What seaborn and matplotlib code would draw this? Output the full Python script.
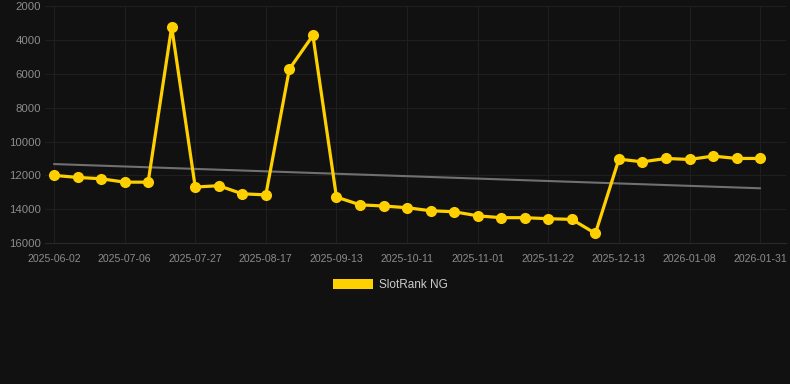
import numpy as np
import pandas as pd
import matplotlib
matplotlib.use("Agg")
import matplotlib.pyplot as plt
from matplotlib.patches import Patch
import seaborn as sns

# weekly SlotRank values (lower number = better, axis is inverted)
ranks = [12000, 12120, 12200, 12400, 12400, 3220, 12690, 12610, 13090, 13150,
         5720, 3730, 13280, 13740, 13810, 13910, 14090, 14150, 14390, 14500,
         14500, 14560, 14600, 15430, 11040, 11200, 11000, 11060, 10860, 11000,
         11000]
# date labels shown on every third point
tick_labels = ["2025-06-02", "2025-07-06", "2025-07-27", "2025-08-17",
               "2025-09-13", "2025-10-11", "2025-11-01", "2025-11-22",
               "2025-12-13", "2026-01-08", "2026-01-31"]
y_ticks = [2000, 4000, 6000, 8000, 10000, 12000, 14000, 16000]
series_name = "SlotRank NG"

BG = "#111111"
GOLD = "#FFD000"
TEXT = "#8c8c8c"

df = pd.DataFrame({"idx": np.arange(len(ranks)), "rank": ranks})

sns.set_theme(style="dark")
plt.rcParams["font.family"] = ["Liberation Sans", "DejaVu Sans"]

fig = plt.figure(figsize=(7.9, 3.84), dpi=100, facecolor=BG)
ax = fig.add_axes([0.057, 0.367, 0.938, 0.617])
ax.set_facecolor(BG)

# trend line (least squares over the points)
sns.regplot(data=df, x="idx", y="rank", scatter=False, ci=None, ax=ax,
            line_kws={"color": "#707070", "linewidth": 1.5, "zorder": 2})

sns.lineplot(data=df, x="idx", y="rank", ax=ax, color=GOLD, linewidth=2.3,
             marker="o", markersize=8, markeredgewidth=0, zorder=3)

ax.set_ylim(16000, 2000)
ax.set_xlim(-0.38, 31.1)
ax.set_yticks(y_ticks)
ax.set_yticklabels([str(v) for v in y_ticks], fontsize=8.2, color=TEXT)
ax.set_xticks(np.arange(0, len(ranks), 3))
ax.set_xticklabels(tick_labels, fontsize=7.6, color=TEXT)
ax.tick_params(axis="x", length=4, color="#242424", pad=4)
ax.tick_params(axis="y", length=0, pad=3)
ax.grid(True, color="#1f1f1f", linewidth=0.8)
ax.set_axisbelow(True)
ax.set_xlabel("")
ax.set_ylabel("")
for side in ["top", "right", "left"]:
    ax.spines[side].set_visible(False)
ax.spines["bottom"].set_color("#2a2a2a")
ax.spines["bottom"].set_linewidth(0.8)

handle = Patch(facecolor=GOLD, edgecolor="none", label=series_name)
fig.legend(handles=[handle], loc="center", bbox_to_anchor=(0.494, 0.258),
           frameon=False, fontsize=8.5, labelcolor="#cccccc",
           handlelength=3.4, handleheight=1.0, handletextpad=0.5)

fig.savefig("out.png", dpi=100, facecolor=BG)
